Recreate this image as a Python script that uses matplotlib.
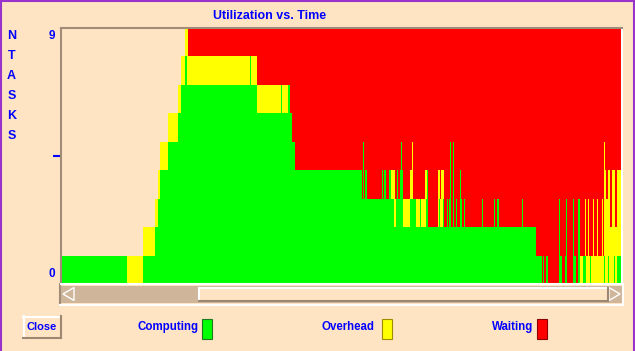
import matplotlib
matplotlib.use('Agg')
import matplotlib.pyplot as plt
import numpy as np
from matplotlib.patches import Rectangle, Polygon

BG = '#FFE4C4'
BLUE = '#0000FF'
GREEN = '#00FF00'
YELLOW = '#FFFF00'
RED = '#FF0000'
FRAME = '#A08C78'
TAN = '#CFB69B'
PURPLE = '#9933CC'

plt.rcParams['font.family'] = ['Liberation Sans', 'DejaVu Sans']

# start time of each state segment (last segment runs to time_end)
seg_start = [0, 66, 82, 94, 97, 99, 107, 117, 120, 124, 126, 127, 189, 190, 196, 220, 221, 227, 229, 231,
             234, 301, 302, 303, 304, 306, 321, 322, 323, 325, 328, 330, 333, 334, 335, 336, 337, 339, 340, 341,
             342, 349, 351, 352, 355, 359, 360, 364, 365, 366, 367, 377, 378, 379, 380, 382, 383, 386, 387, 388,
             389, 390, 392, 393, 395, 396, 399, 400, 401, 403, 404, 421, 422, 433, 434, 436, 438, 461, 462, 475,
             481, 482, 483, 485, 487, 498, 499, 501, 504, 505, 506, 512, 513, 515, 517, 519, 522, 524, 525, 527,
             528, 529, 530, 532, 533, 536, 537, 541, 542, 543, 544, 545, 547, 548, 549, 551, 553, 554, 556]
time_end = 561

# number of tasks in each state per segment
computing = [1, 0, 1, 2, 3, 4, 5, 6, 7, 8, 7, 7, 8, 7, 6, 7, 6, 7, 6, 5,
             4, 3, 5, 3, 4, 3, 4, 3, 4, 3, 4, 3, 2, 2, 3, 4, 3, 4, 5, 4,
             2, 3, 3, 3, 2, 3, 2, 2, 3, 4, 2, 2, 3, 2, 2, 3, 2, 3, 2, 3,
             5, 2, 5, 2, 3, 2, 4, 3, 2, 3, 2, 3, 2, 3, 2, 3, 2, 3, 2, 1,
             0, 1, 0, 1, 0, 3, 1, 0, 1, 3, 0, 3, 1, 0, 3, 0, 1, 1, 0, 0,
             0, 1, 0, 0, 0, 0, 0, 0, 0, 1, 0, 0, 1, 0, 0, 0, 1, 0, 1]
overhead = [0, 1, 1, 1, 1, 1, 1, 1, 1, 1, 2, 1, 0, 1, 1, 0, 1, 0, 0, 0,
            0, 0, 0, 0, 0, 0, 0, 0, 0, 0, 0, 1, 2, 1, 0, 0, 0, 0, 0, 0,
            1, 1, 2, 0, 1, 0, 1, 2, 1, 0, 0, 2, 1, 1, 2, 1, 0, 0, 0, 0,
            0, 0, 0, 0, 0, 0, 0, 0, 0, 0, 0, 0, 0, 0, 0, 0, 0, 0, 0, 0,
            0, 0, 0, 0, 0, 0, 0, 0, 0, 0, 0, 0, 0, 0, 0, 1, 0, 2, 1, 3,
            1, 0, 1, 3, 1, 3, 1, 3, 1, 4, 4, 3, 3, 4, 2, 4, 3, 2, 3]
waiting = [0, 0, 0, 0, 0, 0, 0, 0, 0, 0, 0, 1, 1, 1, 2, 2, 2, 2, 3, 4,
           5, 6, 4, 6, 5, 6, 5, 6, 5, 6, 5, 5, 5, 6, 6, 5, 6, 5, 4, 5,
           6, 5, 4, 6, 6, 6, 6, 5, 5, 5, 7, 5, 5, 6, 5, 5, 7, 6, 7, 6,
           4, 7, 4, 7, 6, 7, 5, 6, 7, 6, 7, 6, 7, 6, 7, 6, 7, 6, 7, 8,
           9, 8, 9, 8, 9, 6, 8, 9, 8, 6, 9, 6, 8, 9, 6, 8, 8, 6, 8, 6,
           8, 8, 8, 6, 8, 6, 8, 6, 8, 4, 5, 6, 5, 5, 7, 5, 5, 7, 5]

n_tasks = 9
legend_items = ['Computing', 'Overhead', 'Waiting']

W, H = 635, 351
fig = plt.figure(figsize=(W / 100, H / 100), dpi=100)
fig.patch.set_facecolor(BG)

# pixel-space overlay for the window decorations
deco = fig.add_axes([0, 0, 1, 1], zorder=0)
deco.set_xlim(0, W)
deco.set_ylim(H, 0)
deco.axis('off')

# main chart
ax = fig.add_axes([61 / W, (H - 284) / H, 561 / W, 256 / H], zorder=1)
ax.set_facecolor(BG)
edges = np.array(seg_start + [time_end])
c = np.array(computing)
o = np.array(overhead)
w = np.array(waiting)
ax.stairs(c, edges, baseline=0, fill=True, color=GREEN, lw=0, antialiased=False)
ax.stairs(c + o, edges, baseline=c, fill=True, color=YELLOW, lw=0, antialiased=False)
ax.stairs(c + o + w, edges, baseline=c + o, fill=True, color=RED, lw=0, antialiased=False)
ax.set_xlim(0, time_end)
ax.set_ylim(0, n_tasks)
ax.set_xticks([])
ax.set_yticks([])
ax.set_yticks([n_tasks / 2], minor=True)
ax.tick_params(axis='y', which='minor', length=6, width=1.5, color=BLUE, labelleft=False)
ax.spines['left'].set_color(FRAME)
ax.spines['top'].set_color(FRAME)
ax.spines['left'].set_linewidth(1.5)
ax.spines['top'].set_linewidth(1.5)
ax.spines['right'].set_color('white')
ax.spines['bottom'].set_color('white')
ax.spines['right'].set_linewidth(1.5)
ax.spines['bottom'].set_linewidth(1.5)

# outer window border
deco.plot([0.7, 0.7], [0, H], color=PURPLE, lw=1.5)
deco.plot([0, W], [0.7, 0.7], color=PURPLE, lw=1.5)
deco.plot([633.5, 633.5], [0, H], color=PURPLE, lw=1.5)

# scrollbar
deco.add_patch(Rectangle((61, 286), 561, 17, facecolor=TAN, edgecolor='none'))
deco.add_patch(Rectangle((199, 288), 409, 13, facecolor=BG, edgecolor='none'))
deco.plot([199, 608], [288, 288], color='white', lw=1.5)
deco.plot([199, 199], [288, 301], color='white', lw=1.5)
deco.plot([199, 608], [301, 301], color='#9C8870', lw=1.5)
deco.plot([608, 608], [288, 301], color='#9C8870', lw=1.5)
deco.add_patch(Polygon([(63, 294), (74, 287.5), (74, 300.5)], closed=True, facecolor=TAN, edgecolor='white', lw=1))
deco.add_patch(Polygon([(620, 294), (609, 287.5), (609, 300.5)], closed=True, facecolor=TAN, edgecolor='white', lw=1))
deco.plot([60, 60], [284, 305], color=FRAME, lw=1.5)
deco.plot([60, 623], [304.5, 304.5], color='white', lw=1.5)
deco.plot([622.5, 622.5], [284, 305], color='white', lw=1.5)

# text labels
deco.text(270, 16, 'Utilization vs. Time', color=BLUE, fontsize=9, fontweight='bold', ha='center', va='center')
for i, ch in enumerate('NTASKS'):
    deco.text(11.5, 36 + 20 * i, ch, color=BLUE, fontsize=9, fontweight='bold', ha='center', va='center')
deco.text(55, 36, str(n_tasks), color=BLUE, fontsize=8.5, fontweight='bold', ha='right', va='center')
deco.text(55, 274, '0', color=BLUE, fontsize=8.5, fontweight='bold', ha='right', va='center')

# close button
deco.add_patch(Rectangle((23, 316), 38, 22, facecolor=BG, edgecolor='none'))
deco.plot([23, 61], [316.5, 316.5], color='white', lw=1.5)
deco.plot([23.5, 23.5], [316, 338], color='white', lw=1.5)
deco.plot([23, 61], [337.5, 337.5], color='#9C8870', lw=1.5)
deco.plot([60.5, 60.5], [316, 338], color='#9C8870', lw=1.5)
deco.text(42, 326.5, 'Close', color=BLUE, fontsize=8, fontweight='bold', ha='center', va='center')

# legend
legend_text_x = [138, 322, 492]
legend_box_x = [202, 382, 537]
legend_colors = [GREEN, YELLOW, RED]
legend_edges = ['#1E7A1E', '#A08C00', '#8B0000']
for label, tx, bx, fc, ec in zip(legend_items, legend_text_x, legend_box_x, legend_colors, legend_edges):
    deco.text(tx, 327, label, color=BLUE, fontsize=8.3, fontweight='bold', ha='left', va='center')
    deco.add_patch(Rectangle((bx, 319), 10, 20, facecolor=fc, edgecolor=ec, lw=0.8))

fig.savefig('out.png', dpi=100, facecolor=BG)
